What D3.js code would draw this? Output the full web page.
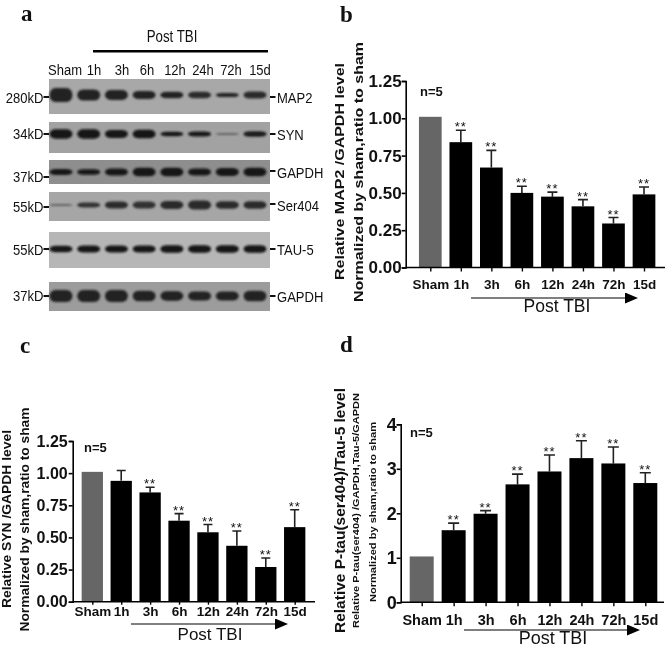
<html>
<script src='https://d3js.org/d3.v7.min.js'></script>
<style>
body {margin:0; background:white;}
svg {display:block; filter:blur(0.35px);}
text {font-family:'Liberation Sans',Arial,sans-serif; fill:#111;}
.plate {font-family:'Liberation Serif',serif; font-weight:bold; font-size:23px;}
.bold {font-weight:bold;}
</style>
<body>
<svg width=666 height=653></svg>
<script>
var times = ["Sham","1h","3h","6h","12h","24h","72h","15d"];

// panel b, MAP2
var mapVals = [1.01,0.84,0.67,0.50,0.475,0.41,0.295,0.49];
var mapErr  = [0,0.92,0.785,0.545,0.505,0.455,0.335,0.54];
var mapStars = [0,1,1,1,1,1,1,1];
var mapTicks = [0,0.25,0.5,0.75,1,1.25];
// panel c, SYN
var synVals = [1.01,0.94,0.85,0.63,0.54,0.435,0.27,0.58];
var synErr  = [0,1.02,0.89,0.685,0.60,0.55,0.34,0.715];
var synStars = [0,0,1,1,1,1,1,1];
// panel d, P-tau
var tauVals = [1.03,1.62,1.99,2.65,2.94,3.24,3.12,2.68];
var tauErr  = [0,1.78,2.06,2.88,3.31,3.63,3.49,2.91];
var tauStars = [0,1,1,1,1,1,1,1];
var tauTicks = [0,1,2,3,4];

// blot rows: label, weight, band thickness and darkness per lane
var blotNames = ["MAP2","SYN","GAPDH","Ser404","TAU-5","GAPDH"];
var blotKd = ["280kD","34kD","37kD","55kD","55kD","37kD"];
var blotBands = [
  [14,11,10,8,6.5,6.5,4,7],
  [9.5,9.5,8,8.5,4.5,5,2,5.5],
  [6,5.5,7,8.5,8.5,7,8,8.5],
  [2,5,7,7,8,9,7.5,7.5],
  [6.5,7,7,7,7.5,7.5,7.5,7.5],
  [12,12,12,10.5,9.5,9,9,10.5]
];
var blotDark = [
  [.9,.9,.9,.9,.9,.85,.9,.85],
  [1,1,1,1,1,1,.45,.95],
  [1,1,1,1,1,1,1,1],
  [.45,.8,.85,.8,.85,.85,.85,.85],
  [1,1,1,1,1,1,1,1],
  [.9,.9,.9,.9,.9,.9,.9,.9]
];

var svg = d3.select("svg");
var defs = svg.append("defs");
defs.append("filter").attr("id","soft").attr("x","-20%").attr("y","-60%").attr("width","140%").attr("height","220%")
  .append("feGaussianBlur").attr("stdDeviation",0.8);
defs.append("marker").attr("id","arrow").attr("markerUnits","userSpaceOnUse")
  .attr("markerWidth",13).attr("markerHeight",11).attr("refX",1).attr("refY",5.5).attr("orient","auto")
  .append("path").attr("d","M0,0L13,5.5L0,11Z").attr("fill","#000");

// the blot labels are narrow in the original, so squeeze them
function squeeze(sel,f) {
  sel.attr("textLength",function() { return this.getComputedTextLength()*f; }).attr("lengthAdjust","spacingAndGlyphs");
  return sel;
}

// plate letters
[["a",21,21],["b",340,22],["c",20,353],["d",340,352]].forEach(function(p) {
  svg.append("text").attr("class","plate").attr("x",p[1]).attr("y",p[2]).text(p[0]);
});

/// blot panel ///
var lane = d3.scalePoint(times,[61,255]);
var rowBox = [[79,114],[122,153],[160,184],[192,221],[232,268],[282,311]];
var rowBand = [95,134,172,205,249,296];
var rowGrey = ["#a8a8a8","#a2a2a2","#8e8e8e","#a6a6a6","#b6b6b6","#9c9c9c"];
var leftDash = [97,134,177,207,249,296];
var rightDash = [97,134,171,204,249,296];
var leftBase = [103,139,182,212,255,301];
var rightBase = [103,140,178,211,255,302];
var grey = d3.scaleLinear([0,1],["#a0a0a0","#161616"]);

blotBands.forEach(function(bands,r) {
  svg.append("rect").attr("x",49).attr("y",rowBox[r][0]).attr("width",221)
    .attr("height",rowBox[r][1]-rowBox[r][0]).attr("fill",rowGrey[r]);
  svg.append("g").attr("filter","url(#soft)").selectAll("rect").data(bands).enter().append("rect")
    .attr("x",(d,i) => lane(times[i])-11.5)
    .attr("y",(d) => rowBand[r]-d/2)
    .attr("width",23)
    .attr("height",(d) => d)
    .attr("rx",6).attr("ry",(d) => d/2)
    .attr("fill",(d,i) => grey(blotDark[r][i]));
  squeeze(svg.append("text").attr("x",43.5).attr("y",leftBase[r]).attr("text-anchor","end").attr("font-size",15.5).text(blotKd[r]),.84);
  svg.append("rect").attr("x",43.5).attr("y",leftDash[r]-1).attr("width",5.5).attr("height",2).attr("fill","#111");
  svg.append("rect").attr("x",270).attr("y",rightDash[r]-1).attr("width",5.5).attr("height",2).attr("fill","#111");
  squeeze(svg.append("text").attr("x",277).attr("y",rightBase[r]).attr("font-size",15.5).text(blotNames[r]),.84);
});
var headX = [65,94,122,147,175,203,231,260];
times.forEach(function(t,i) {
  squeeze(svg.append("text").attr("x",headX[i]).attr("y",75).attr("text-anchor","middle").attr("font-size",15.5).text(t),.84);
});
svg.append("rect").attr("x",93).attr("y",50).attr("width",175).attr("height",2.5).attr("fill","#000");
squeeze(svg.append("text").attr("x",172).attr("y",42).attr("text-anchor","middle").attr("font-size",16).text("Post TBI"),.83);

/// bar panels ///
function barPanel(o) {
  var y = d3.scaleLinear(o.domain,[o.y0,o.y1]);
  var x = d3.scalePoint(times,[o.x0,o.x1]);
  var g = svg.append("g");

  g.selectAll(".err").data(o.vals).enter().append("path")
    .attr("fill","none").attr("stroke","#222").attr("stroke-width",1.6)
    .attr("d",(d,i) => o.err[i] ? "M"+x(times[i])+","+y(d)+"V"+y(o.err[i])+"m-"+o.cap+",0h"+(2*o.cap) : null);

  g.selectAll(".bar").data(o.vals).enter().append("rect")
    .attr("x",(d,i) => x(times[i])-o.bw/2)
    .attr("width",o.bw)
    .attr("y",(d) => y(d))
    .attr("height",(d) => o.y0-y(d))
    .attr("fill",(d,i) => i==0 ? "#666" : "#000");

  times.forEach(function(t,i) {
    if (!o.stars[i]) return;
    g.append("text").attr("x",x(t)).attr("y",y(o.err[i])+1)
      .attr("text-anchor","middle").attr("font-size",13).attr("fill","#444").attr("letter-spacing",1)
      .text("**");
  });

  var yAxis = d3.axisLeft(y).tickValues(o.ticks).tickFormat(d3.format(o.fmt)).tickSize(4).tickPadding(o.tickPad);
  var ax = g.append("g").attr("transform","translate("+o.ax+",0)").call(yAxis);
  ax.selectAll("path,line").attr("stroke","#000").attr("stroke-width",1.6);
  ax.selectAll("text").attr("font-size",o.tickFont).attr("font-weight","bold");

  var xAxis = d3.axisBottom(x).tickSize(o.catTick).tickPadding(o.catPad);
  var bx = g.append("g").attr("transform","translate(0,"+o.y0+")").call(xAxis);
  bx.select("path").attr("d","M"+o.ax+",0H"+o.xEnd).attr("stroke","#000").attr("stroke-width",1.6);
  bx.selectAll("line").attr("stroke","#000").attr("stroke-width",1.4);
  bx.selectAll("text").attr("font-size",o.catFont).attr("font-weight","bold");

  g.append("line").attr("x1",o.arrow[0]).attr("x2",o.arrow[1]).attr("y1",o.arrowY).attr("y2",o.arrowY)
    .attr("stroke","#000").attr("stroke-width",1).attr("marker-end","url(#arrow)");
  g.append("text").attr("x",o.post[0]).attr("y",o.post[1]).attr("text-anchor","middle").attr("font-size",o.postFont).text("Post TBI");
  g.append("text").attr("class","bold").attr("x",o.n[0]).attr("y",o.n[1]).attr("font-size",13).text("n=5");

  // y titles are stretched along the axis in the original
  o.titles.forEach(function(t) {
    g.append("text").attr("class","bold")
      .attr("transform","translate("+t[1]+","+t[2]+") rotate(-90)")
      .attr("text-anchor","middle").attr("font-size",t[3])
      .attr("textLength",t[4]).attr("lengthAdjust","spacingAndGlyphs").text(t[0]);
  });
}

barPanel({vals:mapVals,err:mapErr,stars:mapStars,domain:[0,1.25],ticks:mapTicks,fmt:".2f",
  y0:267.5,y1:81,x0:430.3,x1:644,bw:22.7,cap:5,ax:405.7,xEnd:665,tickFont:17,tickPad:0,catFont:13.5,catTick:4,catPad:8,
  arrow:[471,626],arrowY:298,post:[557,312],postFont:17.5,n:[420,96],
  titles:[["Relative MAP2 /GAPDH level",344,171.5,13.5,217],["Normalized by sham,ratio to sham",363,172,13.5,260]]});

barPanel({vals:synVals,err:synErr,stars:synStars,domain:[0,1.25],ticks:mapTicks,fmt:".2f",
  y0:601.7,y1:441,x0:92.3,x1:294.7,bw:21.3,cap:4.5,ax:72.7,xEnd:315,tickFont:16,tickPad:1,catFont:13.5,catTick:3,catPad:2,
  arrow:[131,276],arrowY:624,post:[210,640],postFont:17,n:[84,452],
  titles:[["Relative SYN /GAPDH level",11,519,12.5,178],["Normalized by sham,ratio to sham",29,519.5,12.5,224]]});

barPanel({vals:tauVals,err:tauErr,stars:tauStars,domain:[0,4],ticks:tauTicks,fmt:"d",
  y0:602.3,y1:424.3,x0:421.7,x1:645.3,bw:24,cap:5.5,ax:400.7,xEnd:664,tickFont:18,tickPad:0,catFont:14.5,catTick:4,catPad:8,
  arrow:[464,628],arrowY:630,post:[553,644],postFont:18,n:[410,437],
  titles:[["Relative P-tau(ser404)/Tau-5 level",345,510.5,14.5,245],["Relative P-tau(ser404) /GAPDH,Tau-5/GAPDN",359,510.5,9.5,235],["Normalized by sham,ratio to sham",376,512,9.5,180]]});
</script>
</body>
</html>
